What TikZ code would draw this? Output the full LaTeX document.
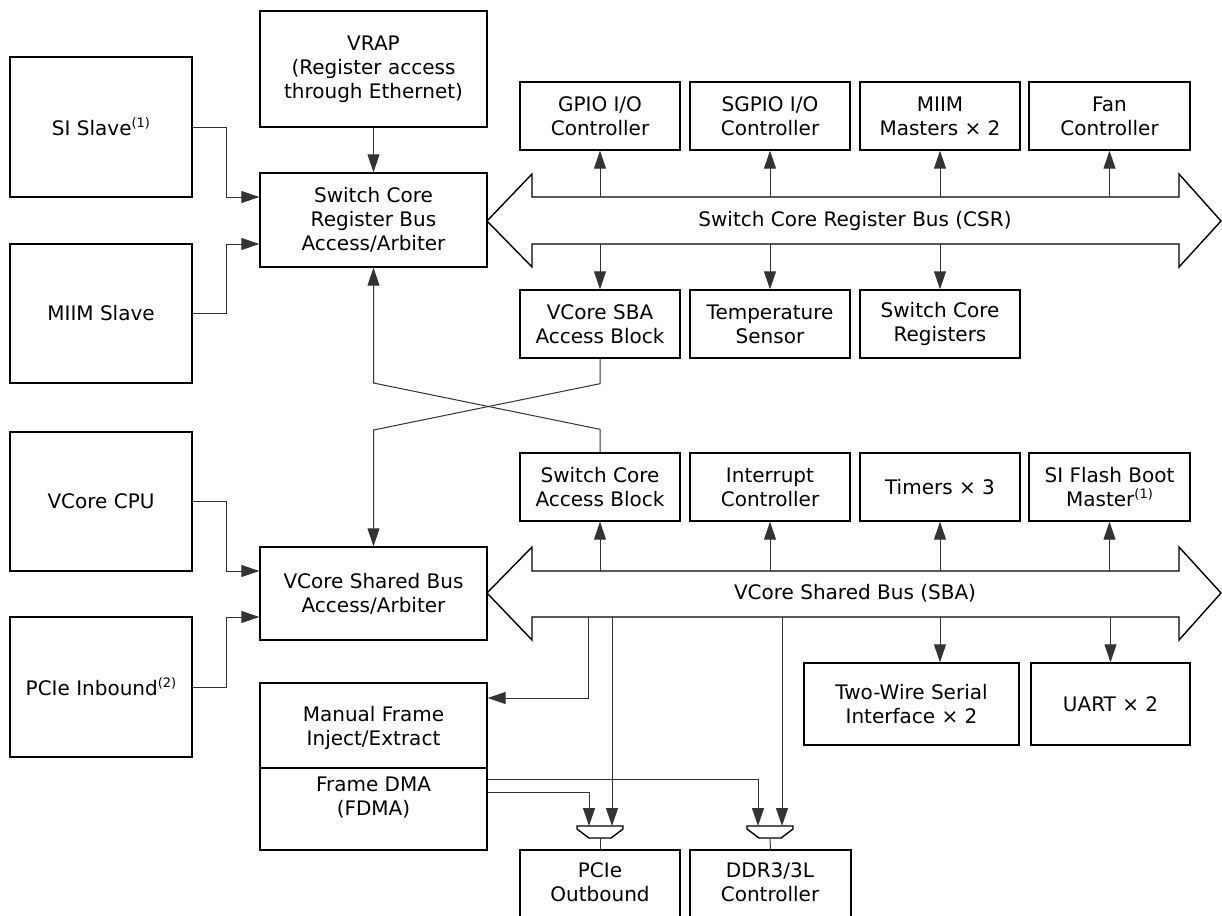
\documentclass[tikz,border=0pt]{standalone}
\usepackage{fontspec}
\setmainfont{DejaVu Sans}
\usetikzlibrary{arrows.meta,calc}
\newcommand\mysup[1]{\raisebox{8pt}{\fontsize{13}{13}\selectfont(#1)}}
\newcommand\mybox[6]{\node[blk,minimum width={(#4-#2)*1pt},minimum height={(#5-#3)*1pt}] (#1) at ({(#2+#4)/2},{(#3+#5)/2}) {#6};}
\newcommand\mymux[2]{%
  \draw[muxs] ({#1-23},826) -- ({#1+23},826) -- ({#1+23},829) -- ({#1+11},838) -- ({#1-11},838) -- ({#1-23},829) -- cycle;
  \coordinate (#2t) at (#1,826);
  \coordinate (#2b) at (#1,838);}
\tikzset{
  blk/.style={draw, line width=1.4pt, align=center, inner sep=0pt, font=\fontsize{20}{24}\selectfont},
  txt/.style={align=center, inner sep=0pt, font=\fontsize{20}{24}\selectfont},
  conn/.style={draw=black!80, line width=1pt},
  arr/.style={-{Triangle[length=18pt,width=12pt]}},
  bus/.style={draw, line width=1.4pt, line join=miter},
  muxs/.style={draw, line width=1.4pt},
}
\begin{document}
\begin{tikzpicture}[x=1pt,y=-1pt]
\useasboundingbox (0,0) rectangle (1222,915);
\fill[white] (0,0) rectangle (1222,915);
\clip (0,0) rectangle (1222,915);

% buses
\draw[bus] (487,221) -- (532,174) -- (532,197) -- (1179,197) -- (1179,174) -- (1221,221) -- (1179,267) -- (1179,244) -- (532,244) -- (532,267) -- cycle;
\node[txt] (csrl) at (855,221) {Switch Core Register Bus (CSR)};
\draw[bus] (487,593) -- (532,547) -- (532,571) -- (1179,571) -- (1179,547) -- (1221,593) -- (1179,640) -- (1179,617) -- (532,617) -- (532,640) -- cycle;
\node[txt] (sbal) at (855,593) {VCore Shared Bus (SBA)};
\coordinate (csrT) at (0,197);
\coordinate (csrB) at (0,244);
\coordinate (sbaT) at (0,571);
\coordinate (sbaB) at (0,617);

% boxes
\mybox{vrap}{260}{11}{487}{127}{VRAP\\(Register access\\through Ethernet)}
\mybox{sis}{10}{57}{192}{197}{SI Slave\mysup{1}}
\mybox{mis}{10}{244}{192}{383}{MIIM Slave}
\mybox{scarb}{260}{173}{487}{267}{Switch Core\\Register Bus\\Access/Arbiter}
\mybox{gpio}{520}{82}{680}{150}{GPIO I/O\\Controller}
\mybox{sgpio}{690}{82}{850}{150}{SGPIO I/O\\Controller}
\mybox{miim}{860}{82}{1020}{150}{MIIM\\Masters × 2}
\mybox{fan}{1029}{82}{1190}{150}{Fan\\Controller}
\mybox{vsab}{520}{290}{680}{358}{VCore SBA\\Access Block}
\mybox{temp}{690}{290}{850}{358}{Temperature\\Sensor}
\mybox{scr}{860}{290}{1020}{358}{Switch Core\\Registers}
\mybox{vcpu}{10}{432}{192}{571}{VCore CPU}
\mybox{pcii}{10}{617}{192}{757}{PCIe Inbound\mysup{2}}
\mybox{vsarb}{260}{547}{487}{640}{VCore Shared Bus\\Access/Arbiter}
\mybox{scab}{520}{453}{680}{521}{Switch Core\\Access Block}
\mybox{intc}{690}{453}{850}{521}{Interrupt\\Controller}
\mybox{tmr}{860}{453}{1020}{521}{Timers × 3}
\mybox{sifb}{1029}{453}{1190}{521}{SI Flash Boot\\Master\mysup{1}}
\mybox{twsi}{804}{663}{1019}{745}{Two-Wire Serial\\Interface × 2}
\mybox{uart}{1031}{663}{1190}{745}{UART × 2}
\mybox{mfie}{260}{683}{487}{768}{}
\mybox{fdma}{260}{768}{487}{850}{}
\mybox{pcio}{520}{850}{680}{960}{}
\mybox{ddr}{690}{850}{851}{960}{}
\node[txt] (mfiet) at (373.5,728) {Manual Frame\\Inject/Extract};
\node[txt] (fdmat) at (373.5,798) {Frame DMA\\(FDMA)};
\node[txt] (pciot) at (600,882) {PCIe\\Outbound};
\node[txt] (ddrt) at (770,882) {DDR3/3L\\Controller};

% muxes
\mymux{600}{pm}
\mymux{770}{dm}

% left inputs
\draw[conn,arr] (vrap) -- (scarb);
\draw[conn,arr] (sis.east) -| (226,197) -- (scarb.west |- csrT);
\draw[conn,arr] (mis.east) -| (226,244) -- (scarb.west |- csrB);
\draw[conn,arr] (vcpu.east) -| (226,571) -- (vsarb.west |- sbaT);
\draw[conn,arr] (pcii.east) -| (226,617) -- (vsarb.west |- sbaB);

% CSR bus taps
\foreach \n in {gpio,sgpio,miim,fan} \draw[conn,arr] (\n.south |- csrT) -- (\n.south);
\foreach \n in {vsab,temp,scr} \draw[conn,arr] (\n.north |- csrB) -- (\n.north);
% SBA bus taps
\foreach \n in {scab,intc,tmr,sifb} \draw[conn,arr] (\n.south |- sbaT) -- (\n.south);
\draw[conn,arr] (tmr.south |- sbaB) -- (twsi.north -| tmr.south);
\draw[conn,arr] (uart.north |- sbaB) -- (uart.north);

% crossing
\draw[conn,arr] (scab.north) -- ++(0,-23) -- (373.5,383) -- (scarb.south);
\draw[conn,arr] (vsab.south) -- ++(0,25) -- (373.5,430) -- (vsarb.north);

% lower connections
\coordinate (b1) at (588,617);
\coordinate (b2) at (612,617);
\coordinate (b3) at (782,617);
\draw[conn,arr] (b1) -- (588,698) -- (mfie.east |- 588,698);
\draw[conn,arr] (b2) -- (b2 |- pmt);
\draw[conn,arr] (b3) -- (b3 |- dmt);
\draw[conn,arr] (fdma.east |- 0,779) -| ($(dmt)+(-12,0)$);
\draw[conn,arr] (fdma.east |- 0,792) -| ($(pmt)+(-11,0)$);
\draw[conn] (pmb) -- (pcio.north);
\draw[conn] (dmb) -- (ddr.north);
\end{tikzpicture}
\end{document}
